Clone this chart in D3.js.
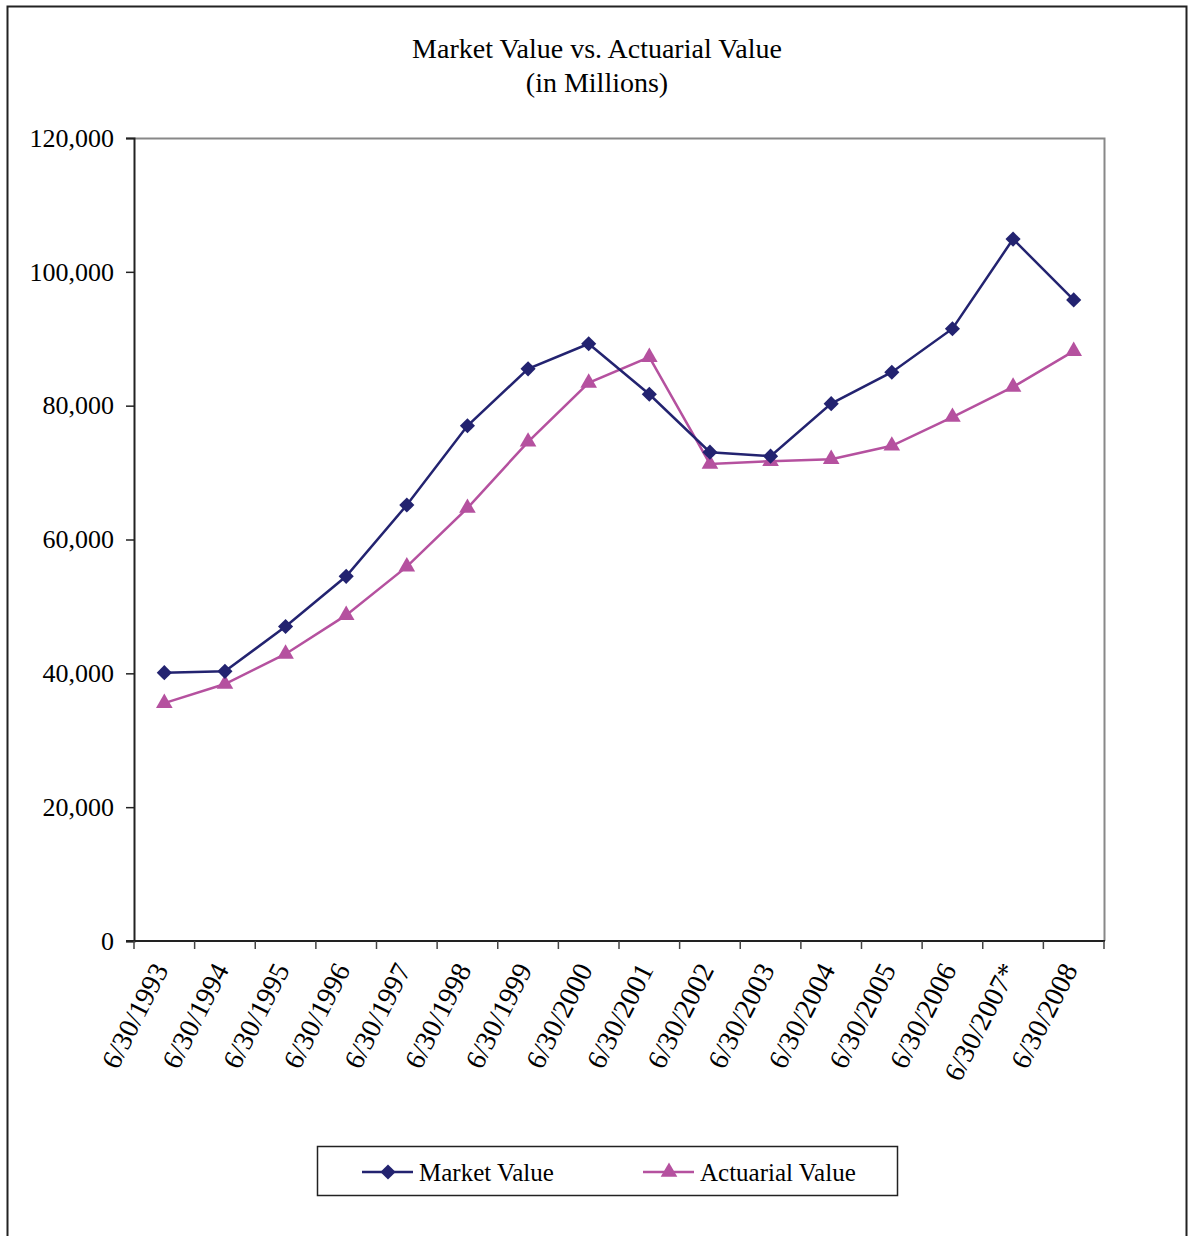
<!DOCTYPE html>
<html><head><meta charset="utf-8">
<script src="https://cdn.jsdelivr.net/npm/d3@7"></script>
<style>html,body{margin:0;padding:0;background:#fff;}svg{display:block;font-family:"Liberation Serif","Times New Roman",serif;}</style>
</head><body>
<svg id="chart" width="1188" height="1236"></svg>
<script>
const categories = ["6/30/1993","6/30/1994","6/30/1995","6/30/1996","6/30/1997","6/30/1998","6/30/1999","6/30/2000","6/30/2001","6/30/2002","6/30/2003","6/30/2004","6/30/2005","6/30/2006","6/30/2007*","6/30/2008"];
const marketValue = [40100,40300,47000,54500,65150,77000,85500,89250,81700,73050,72450,80300,85000,91500,104900,95800];
const actuarialValue = [35550,38400,42900,48700,55950,64700,74600,83400,87250,71300,71700,72000,74000,78300,82800,88150];
const yTicks = [0,20000,40000,60000,80000,100000,120000];
const titleLines = ["Market Value vs. Actuarial Value","(in Millions)"];
const seriesNames = ["Market Value","Actuarial Value"];
const colors = ["#232370","#b5519f"];

const svg = d3.select("#chart");
// outer frame
svg.append("path").attr("d","M7.5,1240 V6.5 H1186.5 V1240").attr("fill","none").attr("stroke","#222").attr("stroke-width",2);

const L=134, T=138, R=1104, B=941;
const x = d3.scaleBand().domain(categories).range([L,R]);
const y = d3.scaleLinear().domain([0,120000]).range([B,T]);

// plot border top/right gray
svg.append("path").attr("d",`M${L},${T+0.5} H${R+0.5} V${B}`).attr("fill","none").attr("stroke","#888").attr("stroke-width",2);

// title
svg.append("g").selectAll("text").data(titleLines).join("text")
  .attr("x",597).attr("y",(d,i)=>58+i*34).attr("text-anchor","middle")
  .attr("font-size",28).attr("fill","#000").text(d=>d);

// y axis
const yAxis = svg.append("g").attr("transform",`translate(${L},0)`)
  .call(d3.axisLeft(y).tickValues(yTicks).tickSize(8).tickPadding(12).tickFormat(d3.format(",")));
yAxis.select(".domain").attr("stroke","#222").attr("stroke-width",2);
yAxis.selectAll(".tick line").attr("stroke","#222").attr("stroke-width",1.5);
yAxis.selectAll("text").attr("font-size",26).attr("font-family","Liberation Serif").attr("fill","#000");

// x axis with ticks at band boundaries
const xAxisG = svg.append("g").attr("transform",`translate(0,${B})`);
xAxisG.append("line").attr("x1",L-8).attr("x2",R+1).attr("y1",0).attr("y2",0).attr("stroke","#222").attr("stroke-width",2);
const bounds = categories.map(c=>x(c)).concat([R]);
xAxisG.selectAll("line.tk").data(bounds).join("line").attr("class","tk")
  .attr("x1",d=>d).attr("x2",d=>d).attr("y1",0).attr("y2",8).attr("stroke","#444").attr("stroke-width",1.5);
xAxisG.selectAll("text").data(categories).join("text")
  .attr("transform",d=>`translate(${x(d)+x.bandwidth()/2-4},${24}) rotate(-63)`)
  .attr("text-anchor","end").attr("dy","0.35em").attr("font-size",28).attr("fill","#000").text(d=>d);

const cx = d=>x(d)+x.bandwidth()/2;
const line = d3.line().x((d,i)=>cx(categories[i])).y(d=>y(d));

// actuarial
svg.append("path").datum(actuarialValue).attr("d",line).attr("fill","none").attr("stroke",colors[1]).attr("stroke-width",2.5);
svg.append("g").selectAll("path").data(actuarialValue).join("path")
  .attr("transform",(d,i)=>`translate(${cx(categories[i])},${y(d)})`)
  .attr("d",d3.symbol(d3.symbolTriangle,120)).attr("fill",colors[1]);

// market
svg.append("path").datum(marketValue).attr("d",line).attr("fill","none").attr("stroke",colors[0]).attr("stroke-width",2.5);
svg.append("g").selectAll("path").data(marketValue).join("path")
  .attr("transform",(d,i)=>`translate(${cx(categories[i])},${y(d)}) rotate(45)`)
  .attr("d",d3.symbol(d3.symbolSquare,115)).attr("fill",colors[0]);

// legend
const lg = svg.append("g");
lg.append("rect").attr("x",317.5).attr("y",1146.5).attr("width",580).attr("height",49).attr("fill","#fff").attr("stroke","#222").attr("stroke-width",1.5);
const legX = [362,643];
seriesNames.forEach((n,i)=>{
  const g = lg.append("g").attr("transform",`translate(${legX[i]},1172)`);
  g.append("line").attr("x1",0).attr("x2",51).attr("y1",0).attr("y2",0).attr("stroke",colors[i]).attr("stroke-width",2.5);
  if(i===0) g.append("path").attr("transform","translate(26,0) rotate(45)").attr("d",d3.symbol(d3.symbolSquare,115)).attr("fill",colors[i]);
  else g.append("path").attr("transform","translate(26,0)").attr("d",d3.symbol(d3.symbolTriangle,120)).attr("fill",colors[i]);
  g.append("text").attr("x",57).attr("y",0).attr("dy","0.35em").attr("font-size",25).attr("fill","#000").text(n);
});
</script>
</body></html>
